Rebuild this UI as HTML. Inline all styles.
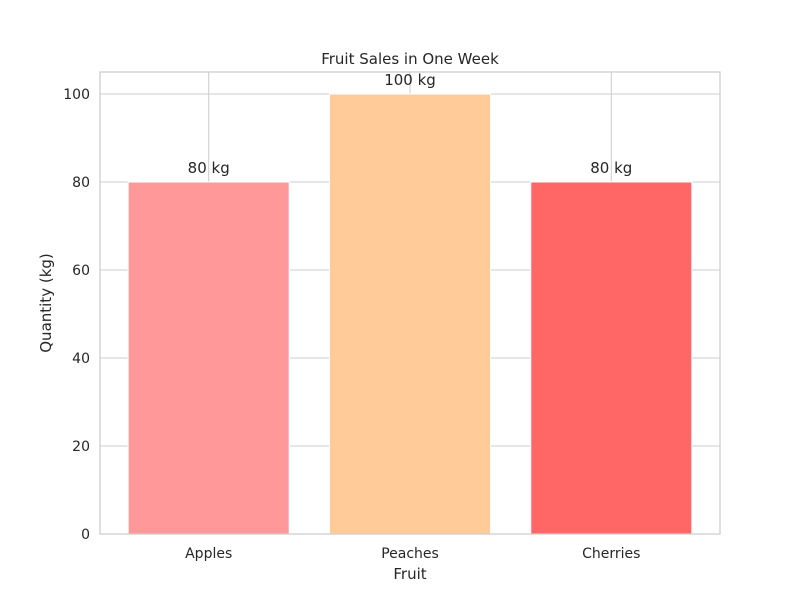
<!DOCTYPE html>
<html><head><meta charset="utf-8"><style>
body{margin:0;background:#fff;font-family:"DejaVu Sans","Liberation Sans",sans-serif;}
svg text{font-family:"DejaVu Sans","Liberation Sans",sans-serif;fill:#262626;}
</style></head><body>
<svg id="chart" width="800" height="600"></svg>
<script>
const categories = ["Apples","Peaches","Cherries"];
const values = [80,100,80];
const colors = ["#ff9999","#ffcc99","#ff6666"];
const yTicks = [0,20,40,60,80,100];
const L=100,R=720,T=72,B=534;
const xMin=-0.54,xMax=2.54,yMin=0,yMax=105;
const xs=v=>L+(v-xMin)/(xMax-xMin)*(R-L);
const ys=v=>B-(v-yMin)/(yMax-yMin)*(B-T);
const svg=document.getElementById('chart');
const NS="http://www.w3.org/2000/svg";
function mk(tag,attrs,parent){const e=document.createElementNS(NS,tag);for(const k in attrs)e.setAttribute(k,attrs[k]);(parent||svg).appendChild(e);return e;}
const grid=mk('g',{});


yTicks.forEach(t=>{
  const l=mk('line',{x1:L,x2:R,y1:ys(t),y2:ys(t),stroke:'#cccccc','stroke-width':1},grid);
  
  
  const tx=mk('text',{x:L-10,y:ys(t)+5,'text-anchor':'end','font-size':14});
  tx.textContent=t;
  
  
});
categories.forEach((c,i)=>{
  const l=mk('line',{x1:xs(i),x2:xs(i),y1:T,y2:B,stroke:'#cccccc','stroke-width':1},grid);
  
  
});
categories.forEach((c,i)=>{
  const x0=xs(i-0.4),x1=xs(i+0.4);
  const r=mk('rect',{x:x0,y:ys(values[i]),width:x1-x0,height:ys(0)-ys(values[i]),fill:colors[i],stroke:'#ffffff','stroke-width':1});
  
  
  const lb=mk('text',{x:xs(i),y:ys(values[i])-9,'text-anchor':'middle','font-size':15});
  lb.textContent=values[i]+' kg';
  
  
  const tk=mk('text',{x:xs(i),y:B+24,'text-anchor':'middle','font-size':14});
  tk.textContent=c;
  
  
});
const fr=mk('rect',{x:L,y:T,width:R-L,height:B-T,fill:'none',stroke:'#cccccc','stroke-width':1.25});


const ti=mk('text',{x:(L+R)/2,y:64,'text-anchor':'middle','font-size':15});
ti.textContent='Fruit Sales in One Week';


const xt=mk('text',{x:(L+R)/2,y:579,'text-anchor':'middle','font-size':15});
xt.textContent='Fruit';


const yt=mk('text',{x:0,y:0,'text-anchor':'middle','font-size':15,transform:'translate(51,303) rotate(-90)'});
yt.textContent='Quantity (kg)';


</script>
</body></html>
